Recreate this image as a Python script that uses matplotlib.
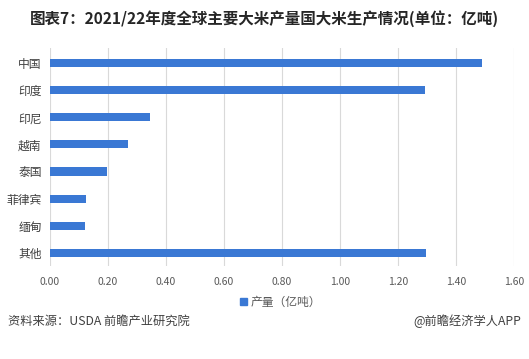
import matplotlib.pyplot as plt
from matplotlib.patches import Patch

plt.rcParams['font.family'] = ['Noto Sans CJK SC', 'DejaVu Sans']

# Data (亿吨)
countries = ['中国', '印度', '印尼', '越南', '泰国', '菲律宾', '缅甸', '其他']
output = [1.49, 1.295, 0.344, 0.27, 0.195, 0.124, 0.121, 1.298]
x_ticks = [0.0, 0.2, 0.4, 0.6, 0.8, 1.0, 1.2, 1.4, 1.6]

bar_color = '#3a78d4'
grid_color = '#d9d9d9'
text_color = '#595959'

fig = plt.figure(figsize=(5.29, 3.59), dpi=100)
ax = fig.add_axes([0.0945, 0.258, 0.877, 0.608])

ax.barh(range(len(countries)), output, height=0.3, color=bar_color, zorder=3)

ax.set_xlim(0, 1.6)
ax.set_ylim(7.5, -0.55)
ax.set_xticks(x_ticks)
ax.set_xticklabels([f'{v:.2f}' for v in x_ticks], fontsize=7.5, color=text_color)
ax.set_yticks(range(len(countries)))
ax.set_yticklabels(countries, fontsize=8.5, color='#404040')
ax.tick_params(axis='y', length=0, pad=6)
ax.tick_params(axis='x', length=0, pad=8)
ax.grid(axis='x', color=grid_color, linewidth=0.8, zorder=0)
for s in ax.spines.values():
    s.set_visible(False)

handle = Patch(color=bar_color, label='产量（亿吨）')
fig.legend(handles=[handle], loc='center', bbox_to_anchor=(0.53, 0.158),
           frameon=False, fontsize=8.5, handlelength=0.6, handleheight=0.6,
           handletextpad=0.3, labelcolor=text_color)

fig.text(0.5, 0.948, '图表7：2021/22年度全球主要大米产量国大米生产情况(单位：亿吨)',
         ha='center', va='center', fontsize=11.2, fontweight='bold', color='#262626')
fig.text(0.015, 0.105, '资料来源：USDA 前瞻产业研究院', ha='left', va='center',
         fontsize=8.8, color='#404040')
fig.text(0.985, 0.105, '@前瞻经济学人APP', ha='right', va='center',
         fontsize=8.8, color='#404040')

fig.savefig('out.png', dpi=100, facecolor='white')
